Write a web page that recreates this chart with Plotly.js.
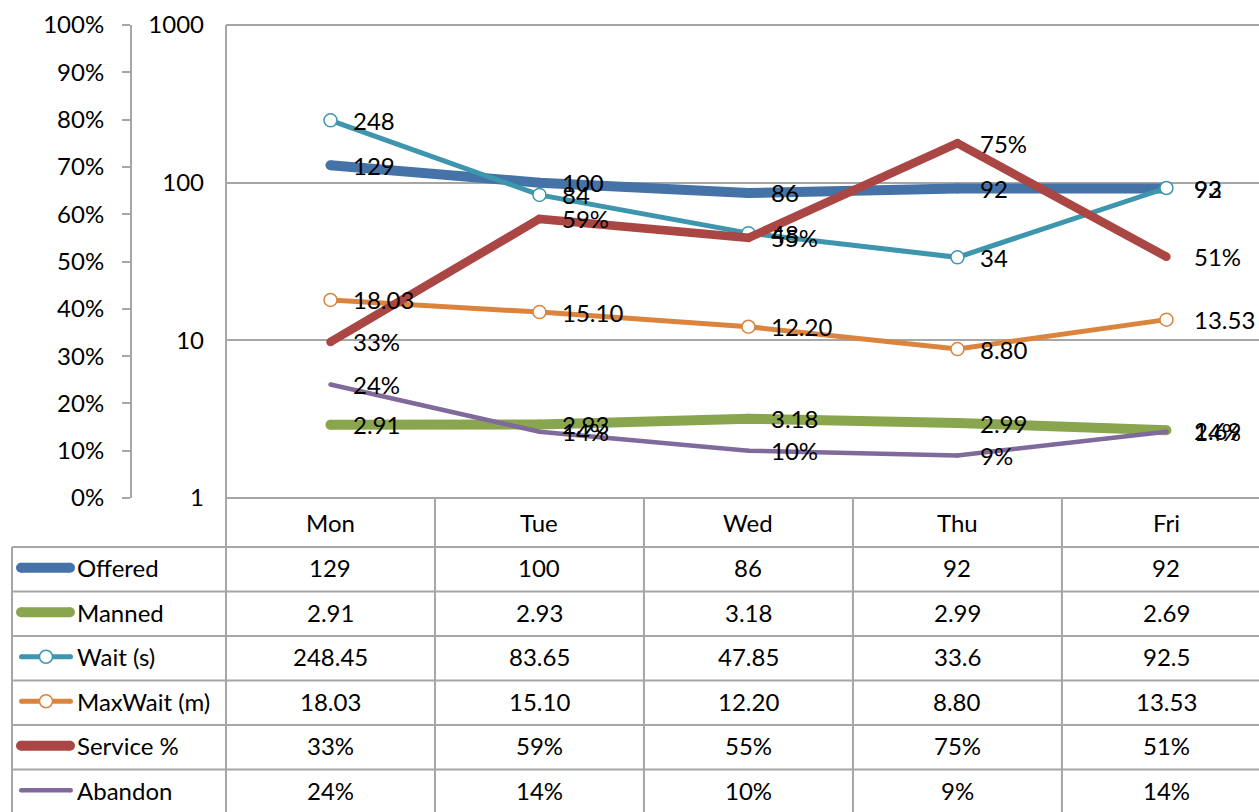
<!DOCTYPE html>
<html>
<head>
<meta charset="utf-8">
<script src="https://cdn.plot.ly/plotly-3.0.1.min.js"></script>
<style>html,body{margin:0;padding:0;background:#fff;}#chart{width:1259px;height:812px;}</style>
</head>
<body>
<div id="chart"></div>
<script>
// ---- data ----
const days = ['Mon', 'Tue', 'Wed', 'Thu', 'Fri'];
const offered = [129, 100, 86, 92, 92];
const manned = [2.91, 2.93, 3.18, 2.99, 2.69];
const waitS = [248.45, 83.65, 47.85, 33.6, 92.5];
const maxWaitM = [18.03, 15.10, 12.20, 8.80, 13.53];
const servicePct = [0.33, 0.59, 0.55, 0.75, 0.51];
const abandonPct = [0.24, 0.14, 0.10, 0.09, 0.14];
const seriesNames = ['Offered', 'Manned', 'Wait (s)', 'MaxWait (m)', 'Service %', 'Abandon'];
const pctTicks = [0, 0.1, 0.2, 0.3, 0.4, 0.5, 0.6, 0.7, 0.8, 0.9, 1.0];
const logTicks = [1, 10, 100, 1000];

// ---- presentation ----
const W = 1259, H = 812;
const plotLeft = 226, plotTop = 25, plotBottom = 498;
const plotH = plotBottom - plotTop;
const FONT = 'Lato, "Open Sans", sans-serif';
const FS = 24;
const GRID = '#a6a6a6';
const px2x = p => p / W;
const py2y = p => (plotBottom - p) / plotH;

const fmtInt = v => v.toFixed(0);
const fmt2 = v => v.toFixed(2);
const fmtPct = v => Math.round(v * 100) + '%';
const fmtGen = v => String(v);

const series = [
  {name: seriesNames[0], vals: offered,    axis: 'y',  color: '#4572A7', w: 10, marker: false, lab: fmtInt, tab: fmtInt, kw: 10},
  {name: seriesNames[1], vals: manned,     axis: 'y',  color: '#89A54E', w: 10, marker: false, lab: fmt2,   tab: fmt2,   kw: 10},
  {name: seriesNames[2], vals: waitS,      axis: 'y',  color: '#3D96AE', w: 5,  marker: true,  lab: fmtInt, tab: fmtGen, kw: 5},
  {name: seriesNames[3], vals: maxWaitM,   axis: 'y',  color: '#DB843D', w: 5,  marker: true,  lab: fmt2,   tab: fmt2,   kw: 5},
  {name: seriesNames[4], vals: servicePct, axis: 'y2', color: '#AA4643', w: 8.5, marker: false, lab: fmtPct, tab: fmtPct, kw: 10},
  {name: seriesNames[5], vals: abandonPct, axis: 'y2', color: '#80699B', w: 4.5, marker: false, lab: fmtPct, tab: fmtPct, kw: 4.5}
];

const traces = series.map(s => ({
  type: 'scatter',
  x: days,
  y: s.vals,
  yaxis: s.axis,
  name: s.name,
  mode: 'lines+markers',
  line: {color: s.color, width: s.w},
  marker: s.marker
    ? {symbol: 'circle', size: 13, color: '#ffffff', line: {color: s.color, width: 1.5}}
    : {symbol: 'circle', size: s.w, color: s.color, line: {width: 0}},
  hoverinfo: 'skip',
  cliponaxis: false
}));

const annotations = [];
const shapes = [];

// data labels
series.forEach(s => {
  s.vals.forEach((v, i) => {
    annotations.push({
      x: days[i], xref: 'x',
      y: s.axis === 'y' ? Math.log10(v) : v, yref: s.axis,
      text: s.lab(v), showarrow: false, xanchor: 'left', yanchor: 'middle',
      xshift: i === days.length - 1 ? 26 : 21, font: {family: FONT, size: FS, color: '#000'}
    });
  });
});

// table geometry
const headerMid = 522;
const rowTop = 547, rowH = 44.5;
const lineStyle = {color: GRID, width: 2};

// plot border: top & left
shapes.push({type: 'line', xref: 'paper', yref: 'paper', x0: px2x(plotLeft), x1: 1, y0: 1, y1: 1, line: lineStyle, layer: 'below'});
shapes.push({type: 'line', xref: 'paper', yref: 'paper', x0: px2x(plotLeft), x1: px2x(plotLeft), y0: 1, y1: py2y(H + 2), line: lineStyle, layer: 'below'});
// bottom of plot
shapes.push({type: 'line', xref: 'paper', yref: 'paper', x0: px2x(plotLeft), x1: 1, y0: 0, y1: 0, line: lineStyle, layer: 'below'});
// table horizontal lines
for (let r = 0; r < seriesNames.length; r++) {
  const yp = rowTop + rowH * r;
  shapes.push({type: 'line', xref: 'paper', yref: 'paper', x0: px2x(12), x1: 1, y0: py2y(yp), y1: py2y(yp), line: lineStyle, layer: 'below'});
}
// table left border
shapes.push({type: 'line', xref: 'paper', yref: 'paper', x0: px2x(12), x1: px2x(12), y0: py2y(rowTop), y1: py2y(H + 2), line: lineStyle, layer: 'below'});
// column separators
for (let i = 0; i < days.length - 1; i++) {
  shapes.push({type: 'line', xref: 'x', yref: 'paper', x0: i + 0.5, x1: i + 0.5, y0: 0, y1: py2y(H + 2), line: lineStyle, layer: 'below'});
}

// header labels
days.forEach((d, i) => {
  annotations.push({x: d, xref: 'x', y: py2y(headerMid), yref: 'paper', text: d, showarrow: false,
    xanchor: 'center', yanchor: 'middle', font: {family: FONT, size: FS, color: '#000'}});
});

// table rows
series.forEach((s, r) => {
  const yc = py2y(rowTop + rowH * (r + 0.5) - 1.5);
  // legend key line
  const kx0 = s.kw >= 8 ? 16 : 19, kx1 = s.kw >= 8 ? 75 : 73;
  shapes.push({type: 'line', xref: 'paper', yref: 'paper', x0: px2x(kx0 + s.kw / 2), x1: px2x(kx1 - s.kw / 2), y0: yc, y1: yc,
    line: {color: s.color, width: s.kw}});
  [kx0 + s.kw / 2, kx1 - s.kw / 2].forEach(cx => {
    shapes.push({type: 'circle', xref: 'paper', yref: 'paper', xsizemode: 'pixel', ysizemode: 'pixel',
      xanchor: px2x(cx), yanchor: yc, x0: -s.kw / 2, x1: s.kw / 2, y0: -s.kw / 2, y1: s.kw / 2,
      fillcolor: s.color, line: {width: 0}});
  });
  if (s.marker) {
    shapes.push({type: 'circle', xref: 'paper', yref: 'paper', xsizemode: 'pixel', ysizemode: 'pixel',
      xanchor: px2x(46), yanchor: yc, x0: -6.5, x1: 6.5, y0: -6.5, y1: 6.5,
      fillcolor: '#ffffff', line: {color: s.color, width: 1.5}});
  }
  annotations.push({x: px2x(75), xref: 'paper', y: yc, yref: 'paper', text: s.name, showarrow: false,
    xanchor: 'left', yanchor: 'middle', font: {family: FONT, size: FS, color: '#000'}});
  s.vals.forEach((v, i) => {
    annotations.push({x: days[i], xref: 'x', y: yc, yref: 'paper', text: s.tab(v), showarrow: false,
      xanchor: 'center', yanchor: 'middle', font: {family: FONT, size: FS, color: '#000'}});
  });
});

const layout = {
  width: W, height: H,
  margin: {l: 0, r: 0, t: plotTop, b: H - plotBottom, pad: 0},
  paper_bgcolor: '#ffffff', plot_bgcolor: 'rgba(0,0,0,0)',
  showlegend: false,
  font: {family: FONT, size: FS, color: '#000'},
  xaxis: {
    type: 'category', domain: [px2x(plotLeft), 1], range: [-0.5, 4.443],
    showticklabels: false, showgrid: false, zeroline: false, showline: false, ticks: '', fixedrange: true
  },
  yaxis: {
    type: 'log', range: [0, 3], tickvals: logTicks, ticktext: logTicks.map(String),
    showgrid: true, gridcolor: GRID, gridwidth: 2, zeroline: false, showline: false,
    ticks: '', ticklabelstandoff: 21, tickfont: {family: FONT, size: FS, color: '#000'},
    automargin: false, fixedrange: true
  },
  yaxis2: {
    overlaying: 'y', anchor: 'free', side: 'left', position: px2x(131),
    range: [0, 1], tickvals: pctTicks, ticktext: pctTicks.map(fmtPct),
    showgrid: false, zeroline: false, showline: true, linecolor: GRID, linewidth: 2,
    ticks: 'outside', ticklen: 8, tickwidth: 2, tickcolor: GRID, ticklabelstandoff: 13,
    tickfont: {family: FONT, size: FS, color: '#000'}, automargin: false, fixedrange: true
  },
  annotations: annotations,
  shapes: shapes
};

Plotly.newPlot('chart', traces, layout, {staticPlot: true, displayModeBar: false});
</script>
</body>
</html>
